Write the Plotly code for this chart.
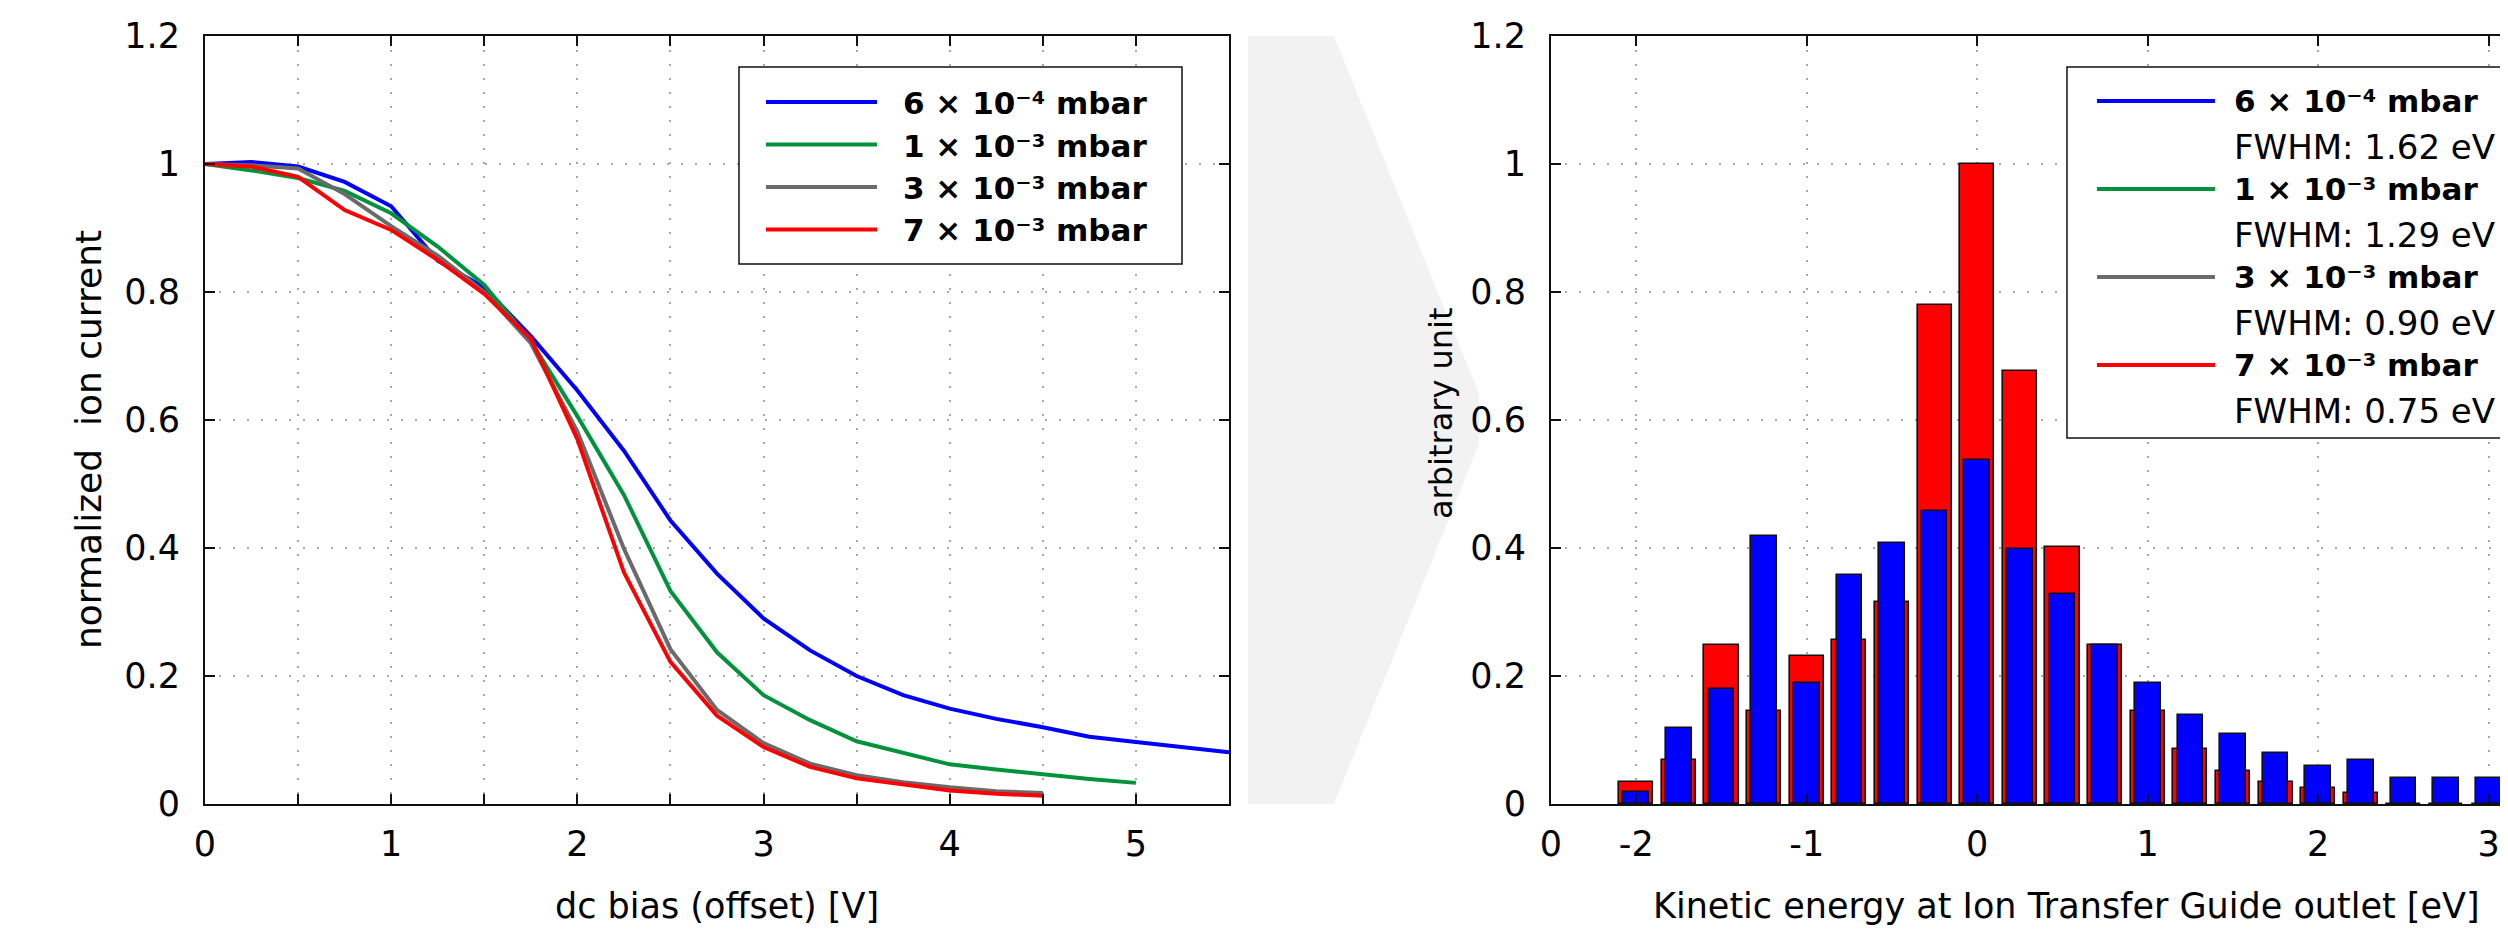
import plotly.graph_objects as go

# screen geometry (reference pixels) and figure size (page body keeps an 8 px margin)
W, H = 2508, 935
OFF = 8
FW, FH = W - OFF, H - OFF

# ---------------- data ----------------
bias_v = [0, 0.25, 0.5, 0.75, 1.0, 1.25, 1.5, 1.75, 2.0, 2.25, 2.5, 2.75,
          3.0, 3.25, 3.5, 3.75, 4.0, 4.25, 4.5, 4.75, 5.0, 5.25, 5.5]

current_6e4 = [1.0, 1.003, 0.996, 0.972, 0.934, 0.849, 0.807, 0.731, 0.646, 0.552,
               0.443, 0.360, 0.290, 0.240, 0.200, 0.170, 0.149, 0.133, 0.120,
               0.105, 0.097, 0.089, 0.081]
current_1e3 = [1.0, 0.990, 0.978, 0.958, 0.923, 0.871, 0.811, 0.723, 0.606, 0.483,
               0.333, 0.237, 0.170, 0.131, 0.098, 0.080, 0.062, 0.054, 0.046,
               0.039, 0.033]
current_3e3 = [1.0, 0.998, 0.993, 0.953, 0.903, 0.857, 0.800, 0.720, 0.582, 0.399,
               0.242, 0.147, 0.095, 0.063, 0.045, 0.034, 0.026, 0.020, 0.017]
current_7e3 = [1.0, 0.996, 0.980, 0.928, 0.897, 0.850, 0.797, 0.727, 0.570, 0.362,
               0.222, 0.138, 0.089, 0.058, 0.040, 0.030, 0.021, 0.016, 0.013]

energy_ev = [-2.0, -1.75, -1.5, -1.25, -1.0, -0.75, -0.5, -0.25, 0.0, 0.25, 0.5,
             0.75, 1.0, 1.25, 1.5, 1.75, 2.0, 2.25, 2.5, 2.75, 3.0]
counts_7e3 = [0.034, 0.068, 0.248, 0.145, 0.231, 0.256, 0.316, 0.779, 1.0, 0.676,
              0.401, 0.248, 0.145, 0.086, 0.051, 0.034, 0.025, 0.017, 0.0, 0.0, 0.0]
counts_6e4 = [0.019, 0.119, 0.179, 0.418, 0.189, 0.358, 0.408, 0.458, 0.538, 0.399,
              0.328, 0.249, 0.189, 0.139, 0.109, 0.079, 0.059, 0.069, 0.040, 0.040, 0.040]

series_names = ["6 × 10⁻⁴ mbar", "1 × 10⁻³ mbar", "3 × 10⁻³ mbar", "7 × 10⁻³ mbar"]
series_colors = ["#0000ff", "#00933c", "#6a6a6a", "#ff0000"]
fwhm_labels = ["FWHM: 1.62 eV", "FWHM: 1.29 eV", "FWHM: 0.90 eV", "FWHM: 0.75 eV"]

left_xticks = [0, 1, 2, 3, 4, 5]
left_xtext = ["0", "1", "2", "3", "4", "5"]
right_xticks = [-2.5, -2, -1, 0, 1, 2, 3]
right_xtext = ["0", "-2", "-1", "0", "1", "2", "3"]
yticks = [0, 0.2, 0.4, 0.6, 0.8, 1.0, 1.2]
ytext = ["0", "0.2", "0.4", "0.6", "0.8", "1", "1.2"]

FONT = "DejaVu Sans"


def px(x):
    return (x - OFF) / FW


def py(y):
    return 1 - (y - OFF) / FH


fig = go.Figure()

curves = [current_6e4, current_1e3, current_3e3, current_7e3]
for vals, name, col in zip(curves, series_names, series_colors):
    fig.add_trace(go.Scatter(x=bias_v[:len(vals)], y=vals, mode="lines", name=name,
                             line=dict(color=col, width=4), showlegend=False,
                             xaxis="x", yaxis="y"))

fig.add_trace(go.Bar(x=energy_ev, y=counts_7e3, width=0.2, name=series_names[3],
                     marker=dict(color=series_colors[3], line=dict(color="#111111", width=1.6)),
                     showlegend=False, xaxis="x2", yaxis="y2"))
fig.add_trace(go.Bar(x=energy_ev, y=counts_6e4, width=0.15, name=series_names[0],
                     marker=dict(color=series_colors[0], line=dict(color="#111111", width=1.6)),
                     showlegend=False, xaxis="x2", yaxis="y2"))

grid = dict(showgrid=True, gridcolor="#a8a8a8", gridwidth=2, griddash="2px,12px",
            zeroline=False, showline=True, linecolor="#111111", linewidth=2,
            ticks="inside", ticklen=10, tickwidth=1.5, tickcolor="#111111",
            automargin=False,
            tickfont=dict(family=FONT, size=35, color="black"))

fig.update_layout(
    width=FW, height=FH, autosize=False,
    margin=dict(l=0, r=0, t=0, b=0, pad=0),
    paper_bgcolor="white", plot_bgcolor="white",
    barmode="overlay", bargap=0,
    font=dict(family=FONT, color="black"),
    xaxis=dict(domain=[px(205), px(1229)], range=[0, 5.5], tickvals=left_xticks,
               ticktext=left_xtext, mirror="ticks", ticklabelstandoff=8, anchor="y",
               minor=dict(dtick=0.5, tick0=0, showgrid=True, gridcolor="#a8a8a8",
                          gridwidth=2, griddash="2px,12px", ticks="inside", ticklen=10,
                          tickwidth=1.5, tickcolor="#111111"),
               **grid),
    yaxis=dict(domain=[py(804), py(36)], range=[0, 1.2], tickvals=yticks, ticktext=ytext,
               mirror="ticks", ticklabelstandoff=16, anchor="x", **grid),
    xaxis2=dict(domain=[px(1551), 1.0], range=[-2.5, 3.113], tickvals=right_xticks,
                ticktext=right_xtext, mirror="ticks", ticklabelstandoff=8, anchor="y2", **grid),
    yaxis2=dict(domain=[py(804), py(36)], range=[0, 1.2], tickvals=yticks, ticktext=ytext,
                mirror=False, ticklabelstandoff=16, anchor="x2", **grid),
)

shapes = []
# grey chevron between the panels
chevron = [(1248, 36), (1334, 36), (1479, 394), (1479, 444), (1334, 804), (1248, 804)]
path = "M " + " L ".join(f"{px(a):.5f},{py(b):.5f}" for a, b in chevron) + " Z"
shapes.append(dict(type="path", path=path, xref="paper", yref="paper",
                   fillcolor="#f2f2f2", line=dict(width=0), layer="below"))

annotations = []
bold_font = dict(family=FONT, size=31, color="black", weight="bold")

# left legend
shapes.append(dict(type="rect", xref="paper", yref="paper", x0=px(739), x1=px(1182),
                   y0=py(264), y1=py(67), fillcolor="white",
                   line=dict(color="#111111", width=1.5), layer="above"))
left_rows = [102, 144.5, 187, 229.5]
for yy, name, col in zip(left_rows, series_names, series_colors):
    shapes.append(dict(type="line", xref="paper", yref="paper", x0=px(766), x1=px(877),
                       y0=py(yy), y1=py(yy), line=dict(color=col, width=4), layer="above"))
    annotations.append(dict(text=name, x=px(901), y=py(yy + 1), xref="paper",
                            yref="paper", xanchor="left", yanchor="middle", showarrow=False,
                            font=bold_font))

# right legend
shapes.append(dict(type="rect", xref="paper", yref="paper", x0=px(2067), x1=px(2620),
                   y0=py(438), y1=py(67), fillcolor="white",
                   line=dict(color="#111111", width=1.5), layer="above"))
right_rows = [101, 189, 277, 365]
for yy, name, col, fw in zip(right_rows, series_names, series_colors, fwhm_labels):
    shapes.append(dict(type="line", xref="paper", yref="paper", x0=px(2097), x1=px(2215),
                       y0=py(yy), y1=py(yy), line=dict(color=col, width=4), layer="above"))
    annotations.append(dict(text=name, x=px(2232), y=py(yy), xref="paper",
                            yref="paper", xanchor="left", yanchor="middle", showarrow=False,
                            font=bold_font))
    annotations.append(dict(text=fw, x=px(2232), y=py(yy + 46), xref="paper",
                            yref="paper", xanchor="left", yanchor="middle", showarrow=False,
                            font=dict(family=FONT, size=34, color="black")))

# axis titles
annotations += [
    dict(text="dc bias (offset) [V]", x=px(717), y=py(906), xref="paper", yref="paper",
         showarrow=False, xanchor="center", yanchor="middle",
         font=dict(family=FONT, size=35, color="black")),
    dict(text="Kinetic energy at Ion Transfer Guide outlet [eV]", x=px(2066), y=py(906),
         xref="paper", yref="paper", showarrow=False, xanchor="center", yanchor="middle",
         font=dict(family=FONT, size=35, color="black")),
    dict(text="normalized\u00a0 ion current", x=px(88), y=py(440), xref="paper", yref="paper",
         showarrow=False, textangle=-90, xanchor="center", yanchor="middle",
         font=dict(family=FONT, size=36, color="black")),
    dict(text="arbitrary unit", x=px(1441), y=py(413), xref="paper", yref="paper",
         showarrow=False, textangle=-90, xanchor="center", yanchor="middle",
         font=dict(family=FONT, size=32, color="black")),
]

fig.update_layout(shapes=shapes, annotations=annotations)

fig.write_html("out.html")
